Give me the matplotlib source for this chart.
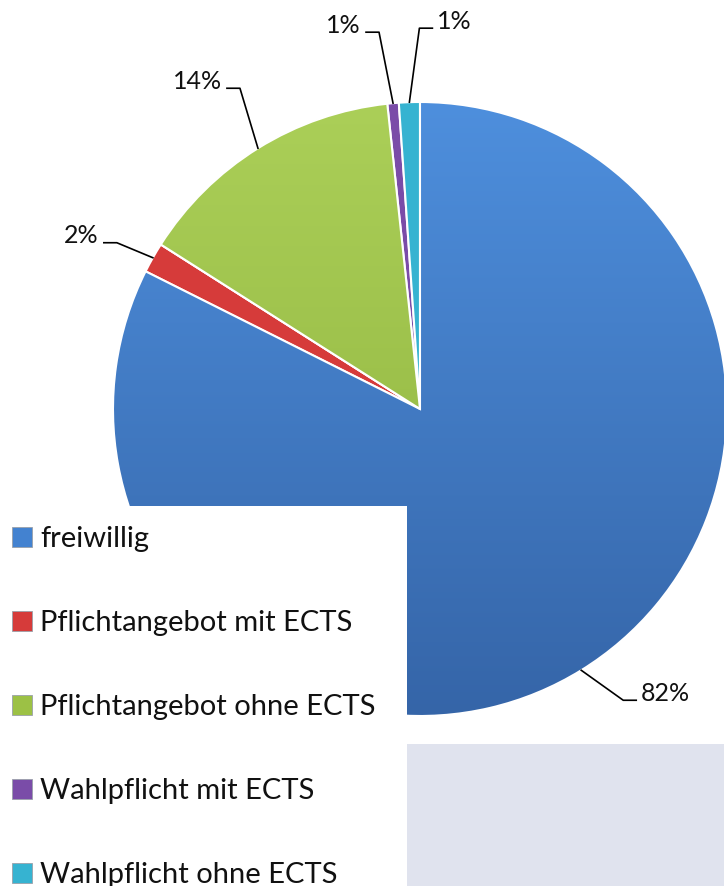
import numpy as np
import matplotlib
matplotlib.use("Agg")
import matplotlib.pyplot as plt
from matplotlib.patches import Rectangle, Wedge
from matplotlib.colors import LinearSegmentedColormap

categories = ["freiwillig", "Pflichtangebot mit ECTS", "Pflichtangebot ohne ECTS",
              "Wahlpflicht mit ECTS", "Wahlpflicht ohne ECTS"]
values = [82.4, 1.6, 14.3, 0.6, 1.1]
pct_labels = ["82%", "2%", "14%", "1%", "1%"]
colors = ["#4382D0", "#D63B3A", "#9CC145", "#7A4CA8", "#36B3D1"]

FONT = ["Lato", "DejaVu Sans"]

W, H = 724, 887
fig = plt.figure(figsize=(W / 100, H / 100), dpi=100)
ax = fig.add_axes([0, 0, 1, 1])

cx, cy, R = 420, H - 410, 307
wedges, _ = ax.pie(values, colors=colors, startangle=90, counterclock=False,
                   center=(cx, cy), radius=R, frame=True,
                   wedgeprops=dict(edgecolor="white", linewidth=1.5))
ax.set_xlim(0, W)
ax.set_ylim(0, H)
ax.set_aspect("equal")
ax.axis("off")

# subtle vertical shading on the large wedges
grads = {0: ("#4E8FDD", "#3565A8"), 2: ("#ABCF58", "#8DB13C")}
for i, (c1, c2) in grads.items():
    cmap = LinearSegmentedColormap.from_list("g%d" % i, [c2, c1])
    grad = np.linspace(0, 1, 256).reshape(-1, 1)
    im = ax.imshow(grad, cmap=cmap, extent=(cx - R, cx + R, cy - R, cy + R),
                   origin="lower", aspect="auto", zorder=wedges[i].get_zorder() + 0.1)
    im.set_clip_path(wedges[i])
    ax.add_patch(Wedge((cx, cy), R, wedges[i].theta1, wedges[i].theta2,
                       facecolor="none", edgecolor="white", lw=1.5,
                       zorder=wedges[i].get_zorder() + 0.2))
ax.set_xlim(0, W)
ax.set_ylim(0, H)

# leader lines: (dx, dy) elbow offset from wedge edge midpoint, arm direction
leader = [(42, -30, 1), (-36, 15, -1), (-18, 60, -1), (-14, 71, -1), (10, 74, 1)]
for w, lab, (dx, dy, side) in zip(wedges, pct_labels, leader):
    ang = np.deg2rad((w.theta1 + w.theta2) / 2)
    ax_, ay_ = cx + R * np.cos(ang), cy + R * np.sin(ang)
    ex, ey = ax_ + dx, ay_ + dy
    hx = ex + side * 13
    ax.plot([ax_, ex, hx], [ay_, ey, ey], color="black", lw=1.2, zorder=5)
    ax.text(hx + side * 5, ey + 8, lab, ha="left" if side > 0 else "right",
            va="center", fontsize=18, family=FONT, color="#111111", zorder=6)

# legend panel and grey panel
ax.add_patch(Rectangle((0, 0), 407, H - 507, facecolor="white", edgecolor="none", zorder=10))
ax.add_patch(Rectangle((405, 0), W - 405, H - 745, facecolor="#E0E3EE", edgecolor="none", zorder=9))

# legend entries
for i, (cat, col) in enumerate(zip(categories, colors)):
    yc = H - (538 + i * 84)
    ax.add_patch(Rectangle((12, yc - 10), 20, 20, facecolor=col, edgecolor="#9aa0aa",
                           lw=0.6, zorder=11))
    ax.text(40, yc - 9, cat, ha="left", va="baseline", fontsize=21, family=FONT,
            color="#111111", zorder=11)

fig.savefig("out.png", dpi=100, facecolor="white")
